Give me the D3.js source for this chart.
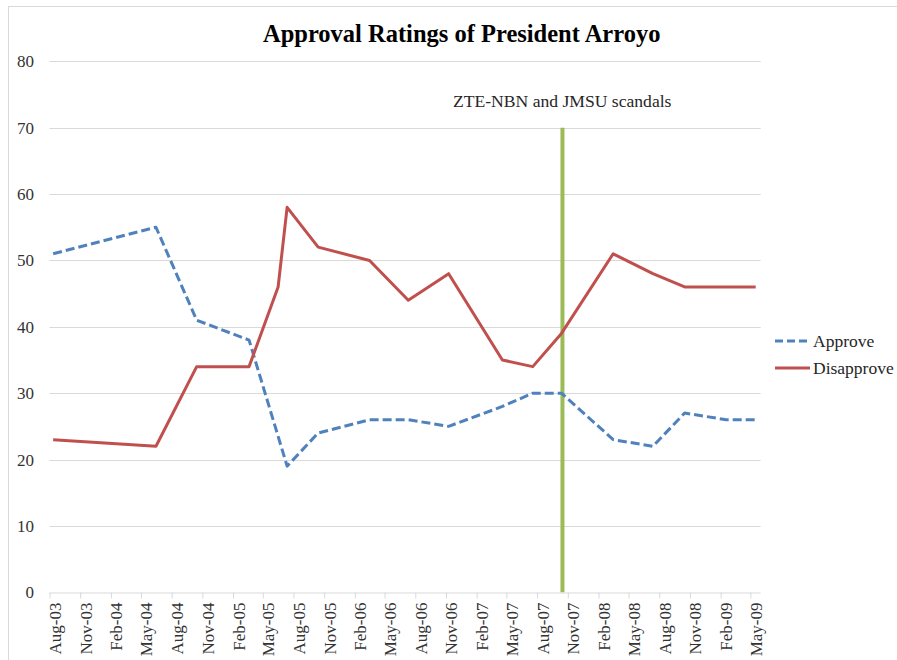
<!DOCTYPE html>
<html>
<head>
<meta charset="utf-8">
<script src="https://cdn.jsdelivr.net/npm/d3@7"></script>
<style>
  html, body { margin: 0; padding: 0; background: #fff; }
  svg { display: block; }
  text { font-family: "Liberation Serif", "Times New Roman", serif; }
</style>
</head>
<body>
<svg id="chart" width="897" height="660"></svg>
<script>
// Survey dates and results (percent)
const surveyDates = [
  "2003-08-12", "2004-06-15", "2004-10-15", "2005-03-21", "2005-06-16",
  "2005-07-13", "2005-10-14", "2006-03-17", "2006-07-11", "2006-11-09",
  "2007-04-19", "2007-07-19", "2007-10-13", "2008-03-16", "2008-07-13",
  "2008-10-16", "2009-02-18", "2009-05-17"
];
const approveValues = [51, 55, 41, 38, null, 19, 24, 26, 26, 25, 28, 30, 30, 23, 22, 27, 26, 26];
const disapproveValues = [23, 22, 34, 34, 46, 58, 52, 50, 44, 48, 35, 34, 39, 51, 48, 46, 46, 46];

// Quarterly axis labels
const tickLabels = [
  "Aug-03", "Nov-03", "Feb-04", "May-04", "Aug-04", "Nov-04", "Feb-05", "May-05",
  "Aug-05", "Nov-05", "Feb-06", "May-06", "Aug-06", "Nov-06", "Feb-07", "May-07",
  "Aug-07", "Nov-07", "Feb-08", "May-08", "Aug-08", "Nov-08", "Feb-09", "May-09"
];
const yTicks = [0, 10, 20, 30, 40, 50, 60, 70, 80];

// Event marker
const eventLabel = "ZTE-NBN and JMSU scandals";
const eventDate = "2007-10-16";
const eventTop = 70;

const seriesNames = ["Approve", "Disapprove"];
const seriesColors = ["#4f81bd", "#c0504d"];

const parseDate = d3.timeParse("%Y-%m-%d");
const parseTick = d3.timeParse("%b-%y");
const serif = '"Liberation Serif", "Times New Roman", serif';

const svg = d3.select("#chart");

// Outer chart frame
svg.append("rect")
  .attr("x", 8.5).attr("y", 6.5)
  .attr("width", 1000).attr("height", 1000)
  .attr("fill", "none").attr("stroke", "#d9d9d9").attr("stroke-width", 1);

const x = d3.scaleTime()
  .domain([parseDate("2003-08-01"), parseDate("2009-06-01")])
  .range([49.5, 760.7]);
const y = d3.scaleLinear().domain([0, 80]).range([592.3, 61.3]);

// Horizontal gridlines
svg.append("g")
  .selectAll("line")
  .data(yTicks.filter(v => v > 0))
  .join("line")
  .attr("x1", x.range()[0]).attr("x2", x.range()[1])
  .attr("y1", d => Math.round(y(d)) + 0.5).attr("y2", d => Math.round(y(d)) + 0.5)
  .attr("stroke", "#d9d9d9").attr("stroke-width", 1);

// Y axis labels
const yAxis = d3.axisLeft(y).tickValues(yTicks).tickSize(0).tickPadding(0);
const gy = svg.append("g").attr("transform", "translate(34,0)").call(yAxis)
  .attr("font-family", serif);
gy.select(".domain").remove();
gy.selectAll("text")
  .attr("font-size", 17).attr("fill", "#333");

// X axis
const tickDates = tickLabels.map(parseTick);
const xAxis = d3.axisBottom(x).tickValues(tickDates).tickSize(6)
  .tickFormat((d, i) => tickLabels[i]);
const gx = svg.append("g").attr("transform", "translate(0,592.5)").call(xAxis)
  .attr("font-family", serif);
gx.select(".domain").attr("stroke", "#d9d9d9").attr("d", `M${x.range()[0]},0.5H${x.range()[1]}`);
gx.selectAll(".tick line").attr("stroke", "#d9d9d9");
gx.selectAll(".tick text")
  .attr("font-size", 17).attr("fill", "#333")
  .attr("text-anchor", "end")
  .attr("transform", "translate(5,10) rotate(-90)")
  .attr("x", 0).attr("y", 0).attr("dy", "0.35em");

// Event marker line
svg.append("line")
  .attr("x1", x(parseDate(eventDate))).attr("x2", x(parseDate(eventDate)))
  .attr("y1", y(eventTop)).attr("y2", y(0))
  .attr("stroke", "#9bbb59").attr("stroke-width", 4);

svg.append("text")
  .attr("x", 453).attr("y", 107)
  .attr("font-size", 17.6).attr("fill", "#262626")
  .text(eventLabel);

// Series lines
const series = [approveValues, disapproveValues].map((vals, i) => ({
  name: seriesNames[i],
  color: seriesColors[i],
  points: surveyDates.map((d, j) => ({ date: parseDate(d), value: vals[j] }))
    .filter(p => p.value != null)
}));

const line = d3.line().x(d => x(d.date)).y(d => y(d.value));

svg.append("g")
  .selectAll("path")
  .data(series)
  .join("path")
  .attr("d", d => line(d.points))
  .attr("fill", "none")
  .attr("stroke", d => d.color)
  .attr("stroke-width", 3)
  .attr("stroke-linejoin", "round")
  .attr("stroke-dasharray", (d, i) => i === 0 ? "9,4" : null);

// Legend
const legend = svg.append("g");
series.forEach((s, i) => {
  const ly = 341 + i * 27;
  legend.append("line")
    .attr("x1", 775).attr("x2", 810).attr("y1", ly).attr("y2", ly)
    .attr("stroke", s.color).attr("stroke-width", 3)
    .attr("stroke-dasharray", i === 0 ? "8,4" : null);
  legend.append("text")
    .attr("x", 813).attr("y", ly).attr("dy", "0.33em")
    .attr("font-size", 17.5).attr("fill", "#262626")
    .text(s.name);
});

// Title
svg.append("text")
  .attr("x", 461.7).attr("y", 42)
  .attr("text-anchor", "middle")
  .attr("font-size", 24.5).attr("font-weight", "bold").attr("fill", "#000")
  .text("Approval Ratings of President Arroyo");
</script>
</body>
</html>
